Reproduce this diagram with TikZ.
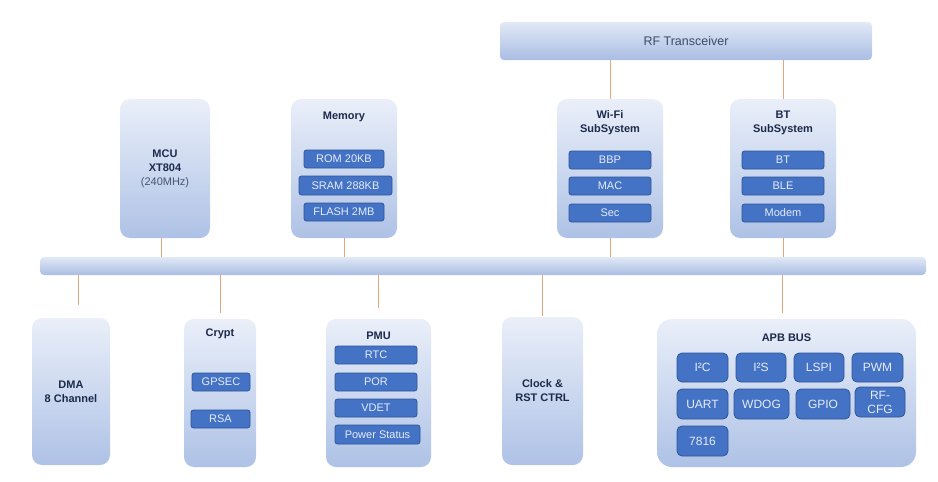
\documentclass[tikz,border=0pt]{standalone}
\usepackage{fontspec}
\setmainfont{Liberation Sans}
\definecolor{blocktop}{HTML}{EAEFF9}
\definecolor{blockbot}{HTML}{AEC2E6}
\definecolor{bustop}{HTML}{E2E9F6}
\definecolor{busbot}{HTML}{A9BDE3}
\definecolor{unitfill}{HTML}{4472C4}
\definecolor{unitline}{HTML}{2F5597}
\definecolor{unittext}{HTML}{E6EDF9}
\definecolor{navy}{HTML}{1C2B4B}
\definecolor{linkc}{HTML}{E2A679}

\begin{document}
\begin{tikzpicture}[x=1pt,y=-1pt,
	block/.style={rounded corners=10pt, top color=blocktop, bottom color=blockbot, inner sep=0pt, align=center, text=navy, font=\bfseries\fontsize{11}{14}\selectfont},
	title/.style={text=navy, align=center, font=\bfseries\fontsize{11}{14}\selectfont},
	unit/.style={draw=unitline, fill=unitfill, rounded corners=2.5pt, inner sep=0pt, line width=0.8pt, text=unittext, align=center, font=\fontsize{11}{12}\selectfont},
	apbunit/.style={unit, rounded corners=5pt, font=\fontsize{12}{13}\selectfont},
	bus/.style={rounded corners=4pt, top color=bustop, bottom color=busbot, inner sep=0pt},
	link/.style={draw=linkc, line width=0.9pt}]
	\useasboundingbox (0,0) rectangle (938,482);

	% radio and system bus
	\node[bus, minimum width=372pt, minimum height=38pt, text=navy!85, font=\fontsize{12.5}{14}\selectfont] (rf) at (686,41) {RF Transceiver};
	\node[bus, minimum width=886pt, minimum height=18pt] (sysbus) at (483,266) {};

	% upper row
	\node[block, minimum width=90pt, minimum height=139pt] (mcu) at (165,168.5) {MCU\\XT804\\{\mdseries\color{navy!80}(240MHz)}};
	\node[block, minimum width=106pt, minimum height=139pt] (mem) at (344,168.5) {};
	\node[title] (memt) at (344,117) {Memory};
	\node[unit, minimum width=80pt, minimum height=18pt] (rom) at (344,159) {ROM 20KB};
	\node[unit, minimum width=93pt, minimum height=19pt] (sram) at (345.5,185.5) {SRAM 288KB};
	\node[unit, minimum width=80pt, minimum height=18pt] (flash) at (344,212) {FLASH 2MB};

	\node[block, minimum width=106pt, minimum height=139pt] (wifi) at (610,168.5) {};
	\node[title] (wifit) at (610,123) {Wi-Fi\\SubSystem};
	\node[unit, minimum width=82pt, minimum height=18pt] (bbp) at (610,160) {BBP};
	\node[unit, minimum width=82pt, minimum height=18pt] (mac) at (610,186) {MAC};
	\node[unit, minimum width=82pt, minimum height=18pt] (sec) at (610,213) {Sec};

	\node[block, minimum width=106pt, minimum height=139pt] (bt) at (783,168.5) {};
	\node[title] (btt) at (783,123) {BT\\SubSystem};
	\node[unit, minimum width=82pt, minimum height=18pt] (btu) at (783,160) {BT};
	\node[unit, minimum width=82pt, minimum height=18pt] (ble) at (783,186) {BLE};
	\node[unit, minimum width=82pt, minimum height=18pt] (modem) at (783,213) {Modem};

	% lower row
	\node[block, minimum width=78pt, minimum height=147pt] (dma) at (71,391.5) {DMA\\8 Channel};

	\node[block, minimum width=72pt, minimum height=148pt] (crypt) at (220,393) {};
	\node[title] (cryptt) at (220,334) {Crypt};
	\node[unit, minimum width=58pt, minimum height=18pt] (gpsec) at (221,382) {GPSEC};
	\node[unit, minimum width=59pt, minimum height=18pt] (rsa) at (220.5,419) {RSA};

	\node[block, minimum width=105pt, minimum height=148pt] (pmu) at (378.5,393) {};
	\node[title] (pmut) at (378.5,336) {PMU};
	\node[unit, minimum width=82pt, minimum height=18pt] (rtc) at (376,355) {RTC};
	\node[unit, minimum width=82pt, minimum height=18pt] (por) at (376,382) {POR};
	\node[unit, minimum width=82pt, minimum height=18pt] (vdet) at (376,408) {VDET};
	\node[unit, minimum width=85pt, minimum height=19pt] (pstat) at (377.5,434.5) {Power Status};

	\node[block, minimum width=81pt, minimum height=148pt] (clk) at (542.5,391) {Clock \&\\RST CTRL};

	\node[block, rounded corners=15pt, minimum width=259pt, minimum height=148pt] (apb) at (786.5,393) {};
	\node[title] (apbt) at (786.5,338) {APB BUS};
	\node[apbunit, minimum width=51pt, minimum height=29pt] (i2c) at (702.5,367.5) {I²C};
	\node[apbunit, minimum width=50pt, minimum height=29pt] (i2s) at (761,367.5) {I²S};
	\node[apbunit, minimum width=50pt, minimum height=29pt] (lspi) at (819,367.5) {LSPI};
	\node[apbunit, minimum width=51pt, minimum height=29pt] (pwm) at (877.5,367.5) {PWM};
	\node[apbunit, minimum width=51pt, minimum height=30pt] (uart) at (702.5,404) {UART};
	\node[apbunit, minimum width=55pt, minimum height=30pt] (wdog) at (761.5,404) {WDOG};
	\node[apbunit, minimum width=54pt, minimum height=30pt] (gpio) at (823,404) {GPIO};
	\node[apbunit, minimum width=50pt, minimum height=30pt, font=\fontsize{12}{14}\selectfont] (rfcfg) at (880,402) {RF-\\CFG};
	\node[apbunit, minimum width=51pt, minimum height=30pt] (iso) at (702.5,441) {7816};

	% taps onto the buses
	\coordinate (mcutap) at ([xshift=-4pt]mcu.south);
	\coordinate (dmatap) at ([xshift=7pt]dma.north);
	\draw[link] (mcutap) -- (mcutap |- sysbus.north);
	\draw[link] (mem.south) -- (mem.south |- sysbus.north);
	\draw[link] (wifi.south) -- (wifi.south |- sysbus.north);
	\draw[link] (bt.south) -- (bt.south |- sysbus.north);
	\draw[link] (wifi.north) -- (wifi.north |- rf.south);
	\draw[link] (bt.north) -- (bt.north |- rf.south);
	\draw[link, shorten >=13pt] (dmatap |- sysbus.south) -- (dmatap);
	\draw[link, shorten >=6pt] (crypt.north |- sysbus.south) -- (crypt.north);
	\draw[link, shorten >=11pt] (pmu.north |- sysbus.south) -- (pmu.north);
	\draw[link, shorten >=1pt] (clk.north |- sysbus.south) -- (clk.north);
	\draw[link, shorten >=6pt] ([xshift=-4.5pt]apb.north |- sysbus.south) -- ([xshift=-4.5pt]apb.north);
\end{tikzpicture}
\end{document}
